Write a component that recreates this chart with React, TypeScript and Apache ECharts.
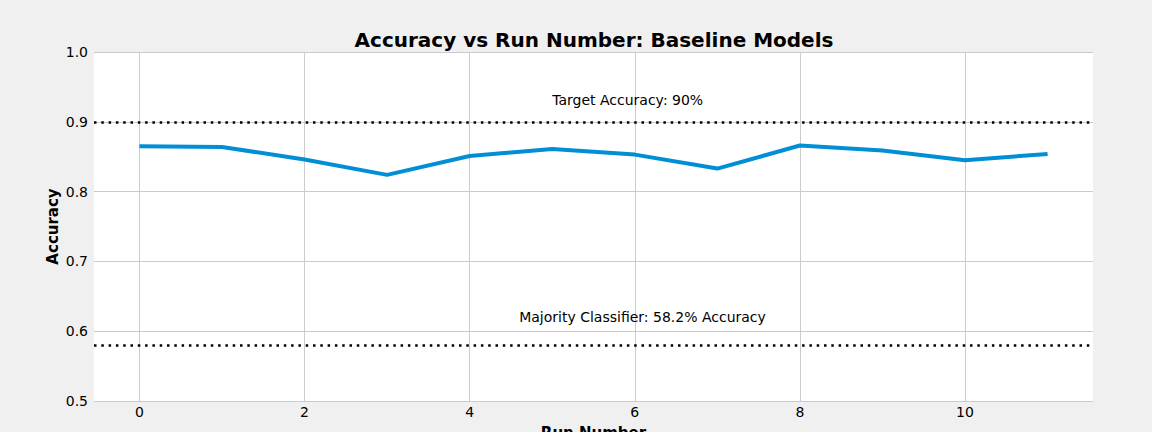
import React, { useEffect, useRef } from "react";
import * as echarts from "echarts";

const runs = [0, 1, 2, 3, 4, 5, 6, 7, 8, 9, 10, 11];
const accuracy = [0.865, 0.864, 0.846, 0.824, 0.851, 0.861, 0.853, 0.833, 0.866, 0.859, 0.845, 0.854];
const xTicks = [0, 2, 4, 6, 8, 10];
const targetAccuracy = 0.9;
const majorityAccuracy = 0.582;
const targetLabel = "Target Accuracy: 90%";
const majorityLabel = "Majority Classifier: 58.2% Accuracy";
const targetLabelPos = [5, 0.931];
const majorityLabelPos = [4.6, 0.621];

const FONT = "DejaVu Sans";

export default function App() {
  const ref = useRef<HTMLDivElement>(null);
  useEffect(() => {
    if (!ref.current) return;
    const chart = echarts.init(ref.current, undefined, { renderer: "svg" });
    const dotted = { color: "#000", width: 2.5, type: [2.5, 4.8], cap: "butt" };
    chart.setOption({
      animation: false,
      backgroundColor: "#f0f0f0",
      textStyle: { fontFamily: FONT },
      title: {
        text: "Accuracy vs Run Number: Baseline Models",
        left: 589,
        textAlign: "center",
        top: 25,
        textStyle: { fontFamily: FONT, fontSize: 20, fontWeight: "bold", color: "#000" },
      },
      grid: {
        left: 94,
        right: 59,
        top: 52,
        bottom: 31,
        show: true,
        backgroundColor: "#fff",
        borderWidth: 0,
        containLabel: false,
        outerBoundsMode: "none",
      },
      xAxis: {
        type: "value",
        min: -0.55,
        max: 11.55,
        name: "Run Number",
        nameLocation: "middle",
        nameGap: 24,
        nameMoveOverlap: false,
        nameTextStyle: { fontFamily: FONT, fontSize: 15, fontWeight: "bold", color: "#000" },
        axisLine: { show: false },
        axisTick: { show: false, customValues: xTicks },
        axisLabel: { customValues: xTicks, fontFamily: FONT, fontSize: 14, color: "#000", margin: 4 },
        splitLine: { show: true, lineStyle: { color: "#cbcbcb", width: 1 } },
      },
      yAxis: {
        type: "value",
        min: 0.5,
        max: 1.0,
        interval: 0.1,
        name: "Accuracy",
        nameLocation: "middle",
        nameGap: 34,
        nameMoveOverlap: false,
        nameTextStyle: { fontFamily: FONT, fontSize: 15, fontWeight: "bold", color: "#000" },
        axisLine: { show: false },
        axisTick: { show: false },
        axisLabel: { fontFamily: FONT, fontSize: 14, color: "#000", margin: 6, formatter: (v: number) => v.toFixed(1) },
        splitLine: { show: true, lineStyle: { color: "#cbcbcb", width: 1 } },
      },
      series: [
        {
          type: "line",
          data: runs.map((r, i) => [r, accuracy[i]]),
          showSymbol: false,
          symbol: "none",
          lineStyle: { color: "#008fd5", width: 4 },
          z: 3,
          markLine: {
            silent: true,
            symbol: "none",
            label: { show: false },
            lineStyle: dotted,
            data: [{ yAxis: targetAccuracy }, { yAxis: majorityAccuracy }],
          },
          markPoint: {
            silent: true,
            symbol: "circle",
            symbolSize: 0,
            label: {
              show: true,
              position: "right",
              distance: 0,
              fontFamily: FONT,
              fontSize: 14,
              color: "#000",
            },
            data: [
              { coord: targetLabelPos, label: { formatter: targetLabel } },
              { coord: majorityLabelPos, label: { formatter: majorityLabel } },
            ],
          },
        },
      ],
    });
    return () => chart.dispose();
  }, []);
  return <div ref={ref} style={{ position: "fixed", left: 0, top: 0, width: 1152, height: 432 }} />;
}
